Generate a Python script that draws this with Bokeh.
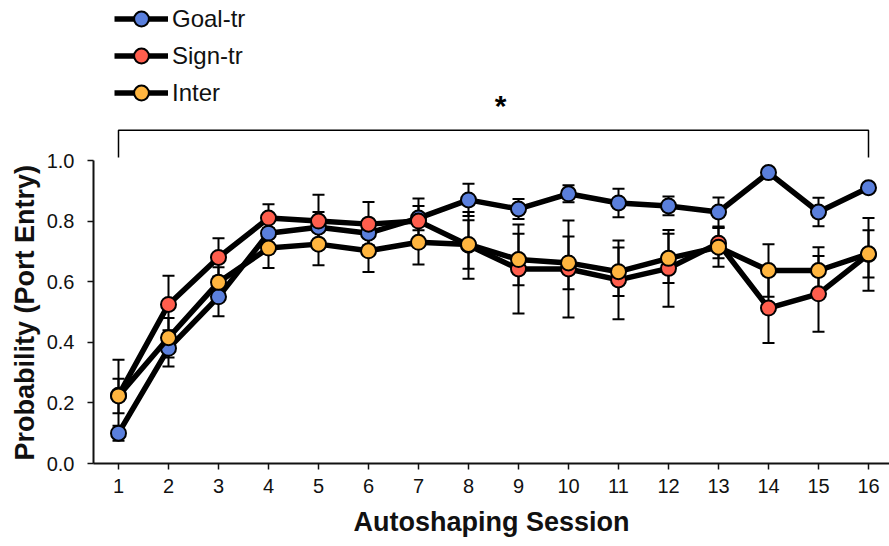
from bokeh.plotting import figure
from bokeh.models import (Range1d, FixedTicker, Whisker, ColumnDataSource, Legend,
                          LegendItem, TeeHead, Label, Title)
from bokeh.embed import file_html
from bokeh.resources import INLINE

# ---------------- data ----------------
sessions = list(range(1, 17))
x_ticks = sessions
y_ticks = [0.0, 0.2, 0.4, 0.6, 0.8, 1.0]
y_tick_labels = ["0.0", "0.2", "0.4", "0.6", "0.8", "1.0"]

goal_mean = [0.10, 0.38, 0.55, 0.76, 0.78, 0.76, 0.81, 0.87, 0.84, 0.89, 0.86, 0.85, 0.83, 0.96, 0.83, 0.91]
goal_err = [0.025, 0.06, 0.064, 0.04, 0.05, 0.04, 0.04, 0.053, 0.033, 0.028, 0.047, 0.031, 0.048, 0.01, 0.047, 0.01]

sign_mean = [0.225, 0.525, 0.68, 0.81, 0.80, 0.79, 0.80, 0.72, 0.642, 0.642, 0.606, 0.644, 0.727, 0.513, 0.56, 0.69]
sign_err = [0.117, 0.095, 0.063, 0.046, 0.087, 0.073, 0.075, 0.11, 0.147, 0.16, 0.13, 0.127, 0.05, 0.115, 0.125, 0.12]

inter_mean = [0.223, 0.415, 0.598, 0.711, 0.724, 0.702, 0.73, 0.723, 0.673, 0.662, 0.633, 0.677, 0.714, 0.637, 0.637, 0.692]
inter_err = [0.057, 0.065, 0.05, 0.066, 0.07, 0.07, 0.073, 0.08, 0.085, 0.087, 0.08, 0.081, 0.065, 0.087, 0.077, 0.078]

series_names = ["Goal-tr", "Sign-tr", "Inter"]
series_colors = ["#5A7FDC", "#FF5E4D", "#FFB53F"]

y_title = "Probability (Port Entry)"
x_title = "Autoshaping Session"

bracket_sessions = [1, 16]
bracket_top = 1.10
bracket_foot = 1.01
star_x = 8.64
star_y = 1.182

# ---------------- figure ----------------
p = figure(width=889, height=546, output_backend="svg", toolbar_location=None,
           x_range=Range1d(0.5, 16.42), y_range=Range1d(0, 463 / 303),
           min_border_left=93, min_border_right=0, min_border_top=0, min_border_bottom=83)
p.outline_line_color = None
p.xgrid.visible = False
p.ygrid.visible = False
p.background_fill_color = "white"
p.border_fill_color = "white"

FONT = "Liberation Sans"

for ax in (p.xaxis[0], p.yaxis[0]):
    ax.axis_line_width = 2
    ax.axis_line_color = "#111111"
    ax.major_tick_line_width = 1.5
    ax.major_tick_line_color = "#111111"
    ax.major_tick_out = 6
    ax.major_tick_in = 0
    ax.minor_tick_line_color = None
    ax.major_label_text_font = FONT
    ax.major_label_text_font_size = "20px"
    ax.major_label_text_color = "#111111"
    ax.axis_label_text_font = FONT
    ax.axis_label_text_font_size = "27px"
    ax.axis_label_text_font_style = "bold"
    ax.axis_label_text_color = "#111111"

p.xaxis.ticker = FixedTicker(ticks=x_ticks)
p.xaxis.axis_label = x_title
p.xaxis.major_label_standoff = 9
p.xaxis.axis_label_standoff = 11

p.yaxis.ticker = FixedTicker(ticks=y_ticks)
p.yaxis.major_label_overrides = {t: s for t, s in zip(y_ticks, y_tick_labels)}
p.yaxis.bounds = (0, 1)
p.yaxis.major_label_standoff = 13

# y-axis title placed beside the 0..1 span of the axis (starts at its bottom)
p.add_layout(Title(text=y_title, align="left", offset=3, standoff=8,
                   text_font=FONT, text_font_style="bold", text_font_size="27px",
                   text_color="#111111"), "left")

# ---------------- series ----------------
means = [goal_mean, sign_mean, inter_mean]
errs = [goal_err, sign_err, inter_err]
items = []
for name, color, m, e in zip(series_names, series_colors, means, errs):
    src = ColumnDataSource(dict(
        x=sessions, y=m,
        upper=[a + b for a, b in zip(m, e)],
        lower=[a - b for a, b in zip(m, e)],
    ))
    w = Whisker(base="x", upper="upper", lower="lower", source=src,
                line_width=2, line_color="black",
                upper_head=TeeHead(size=12, line_width=2, line_color="black"),
                lower_head=TeeHead(size=12, line_width=2, line_color="black"))
    p.add_layout(w)
    ln = p.line("x", "y", source=src, line_width=5.5, line_color="black")
    sc = p.scatter("x", "y", source=src, size=15, fill_color=color,
                   line_color="black", line_width=2)
    items.append(LegendItem(label=name, renderers=[ln, sc]))

legend = Legend(items=items, location=(21, 352), orientation="vertical",
                glyph_width=54, glyph_height=37, label_standoff=4, spacing=0,
                padding=0, margin=0, border_line_color=None,
                background_fill_alpha=0, label_text_font=FONT,
                label_text_font_size="24px", label_text_color="#111111")
p.add_layout(legend)

# significance bracket
bx = [bracket_sessions[0], bracket_sessions[0], bracket_sessions[1], bracket_sessions[1]]
by = [bracket_foot, bracket_top, bracket_top, bracket_foot]
p.line(bx, by, line_width=1.5, line_color="black")
p.add_layout(Label(x=star_x, y=star_y, text="*", text_align="center",
                   text_baseline="middle", text_font=FONT, text_font_style="bold",
                   text_font_size="30px", text_color="black"))

open("out.html", "w").write(file_html(p, INLINE))
